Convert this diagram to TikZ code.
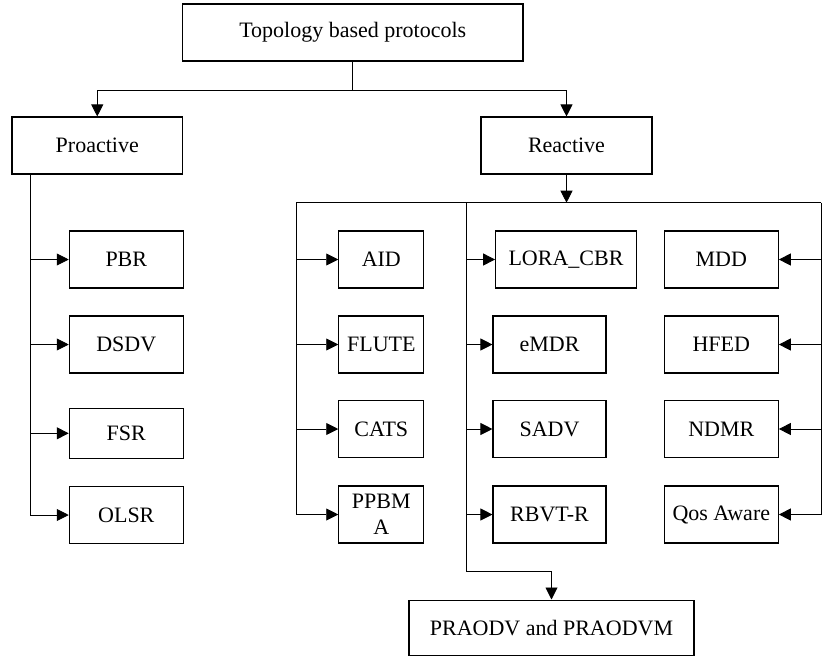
\documentclass[tikz,border=0pt]{standalone}
\usepackage{fontspec}
\setmainfont{Liberation Serif}
\usetikzlibrary{arrows.meta}
\begin{document}
\begin{tikzpicture}[x=1pt,y=-1pt,
  box/.style={draw, line width=1.1pt, inner sep=0pt, minimum height=57pt, align=center,
    font=\fontsize{22}{26}\selectfont},
  conn/.style={line width=0.9pt},
  arr/.style={conn, -{Triangle[length=12pt,width=12pt]}}]
\useasboundingbox (0,0) rectangle (822,657);
% level 0 and 1
\node[box, minimum width=340.5pt] (top) at (352.75,32.5) {Topology based protocols};
\node[box, minimum width=170.5pt] (pro) at (97.25,145.5) {Proactive};
\node[box, minimum width=171pt] (rea) at (566.5,145.5) {Reactive};
% proactive column
\node[box, minimum width=114pt] (pbr) at (126.3,259.5) {PBR};
\node[box, minimum width=114pt] (dsdv) at (126.3,344.5) {DSDV};
\node[box, minimum width=114pt, minimum height=50pt] (fsr) at (126.3,433.3) {FSR};
\node[box, minimum width=114pt] (olsr) at (126.3,515) {OLSR};
% reactive column 1
\node[box, minimum width=85pt] (aid) at (381.3,259.5) {AID};
\node[box, minimum width=85pt] (flute) at (381.3,344.5) {FLUTE};
\node[box, minimum width=85pt] (cats) at (381.3,429) {CATS};
\node[box, minimum width=85pt] (ppbma) at (381.3,514.5) {PPBM\\A};
% reactive column 2
\node[box, minimum width=140.7pt] (lora) at (566,259.5) {LORA\_CBR};
\node[box, minimum width=113pt] (emdr) at (549.5,344.5) {eMDR};
\node[box, minimum width=113pt] (sadv) at (549.5,429) {SADV};
\node[box, minimum width=113pt] (rbvt) at (549.5,514.5) {RBVT-R};
% reactive column 3
\node[box, minimum width=114pt] (mdd) at (721.3,259.5) {MDD};
\node[box, minimum width=114pt] (hfed) at (721.3,344.5) {HFED};
\node[box, minimum width=114pt] (ndmr) at (721.3,429) {NDMR};
\node[box, minimum width=114pt] (qos) at (721.3,514.5) {Qos Aware};
% bottom
\node[box, minimum width=285pt, minimum height=55.5pt] (pra) at (551.5,627.8) {PRAODV and PRAODVM};
% top connectors
\draw[conn] (top.south) -- ++(0,29) coordinate (split);
\draw[arr] (split) -| (pro.north);
\draw[arr] (split) -| (rea.north);
% reactive bus
\coordinate (busL) at (296,202.7);
\coordinate (busM) at (466.7,202.7);
\coordinate (busR) at (821.4,202.7);
\draw[arr] (rea.south) -- (rea.south |- busL);
\draw[conn] (busL) -- (busR);
\draw[conn] (busL) -- (busL |- ppbma.west);
\draw[conn] (busR) -- (busR |- qos.east);
\foreach \n in {aid,flute,cats,ppbma} \draw[arr] (busL |- \n.west) -- (\n.west);
\foreach \n in {lora,emdr,sadv,rbvt} \draw[arr] (busM |- \n.west) -- (\n.west);
\foreach \n in {mdd,hfed,ndmr,qos} \draw[arr] (busR |- \n.east) -- (\n.east);
\coordinate (elb) at (551.5,571.7);
\draw[arr] (busM) |- (elb) -- (pra.north);
% proactive trunk
\coordinate (pv) at (30,174);
\draw[conn] (pv) -- (pv |- olsr.west);
\foreach \n in {pbr,dsdv,fsr,olsr} \draw[arr] (pv |- \n.west) -- (\n.west);
\end{tikzpicture}
\end{document}
